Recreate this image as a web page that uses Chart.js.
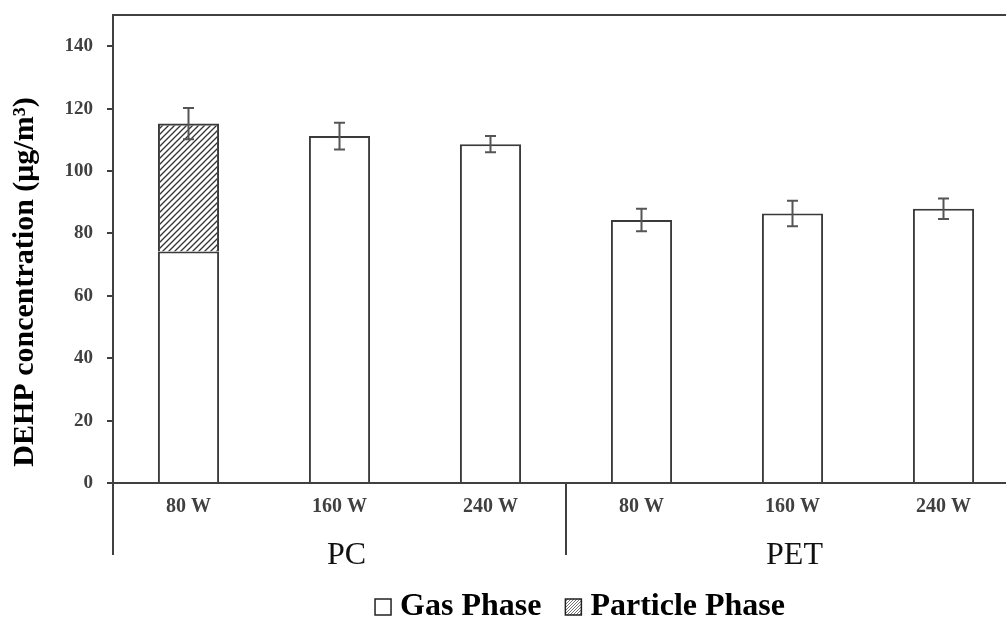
<!DOCTYPE html>
<html>
<head>
<meta charset="utf-8">
<script src="https://cdn.jsdelivr.net/npm/chart.js@4.4.1/dist/chart.umd.min.js"></script>
<style>
html, body { margin: 0; padding: 0; background: #fff; overflow: hidden; }
#wrap { width: 1020px; height: 617px; }
</style>
</head>
<body>
<div id="wrap"><canvas id="myChart" width="1020" height="617"></canvas></div>
<script>
// data
const categories = ['80 W', '160 W', '240 W', '80 W', '160 W', '240 W'];
const groups = ['PC', 'PET'];
const gasPhase = [74.2, 111.2, 108.6, 84.3, 86.4, 87.9];
const particlePhase = [41.0, null, null, null, null, null];
const errors = [5.0, 4.3, 2.6, 3.6, 4.1, 3.3];
const yTicks = [0, 20, 40, 60, 80, 100, 120, 140];
const yMax = 150;

const SERIF = '"Liberation Serif", "Times New Roman", serif';
const AXIS = '#404040';

const ctx = document.getElementById('myChart');
const ctx2d = ctx.getContext('2d');

// diagonal "/" hatch
function makeHatch(size, color, lw) {
    const c = document.createElement('canvas');
    c.width = size; c.height = size;
    const g = c.getContext('2d');
    g.strokeStyle = color;
    g.lineWidth = lw;
    g.beginPath();
    g.moveTo(0, size); g.lineTo(size, 0);
    g.moveTo(-size / 2, size / 2); g.lineTo(size / 2, -size / 2);
    g.moveTo(size / 2, size * 1.5); g.lineTo(size * 1.5, size / 2);
    g.stroke();
    return ctx2d.createPattern(c, 'repeat');
}

const hatch = makeHatch(6, '#333', 1.3);
const fineHatch = makeHatch(3, '#777', 1);

const extras = {
    id: 'extras',
    afterDatasetsDraw(chart) {
        const c = chart.ctx;
        const x = chart.scales.x, y = chart.scales.y;
        c.save();
        c.strokeStyle = '#555';
        c.lineWidth = 2;
        errors.forEach((e, i) => {
            const total = gasPhase[i] + (particlePhase[i] || 0);
            const px = x.getPixelForValue(i);
            const top = y.getPixelForValue(total + e);
            const bot = y.getPixelForValue(total - e);
            c.beginPath();
            c.moveTo(px, top); c.lineTo(px, bot);
            c.moveTo(px - 5.5, top); c.lineTo(px + 5.5, top);
            c.moveTo(px - 5.5, bot); c.lineTo(px + 5.5, bot);
            c.stroke();
        });
        c.restore();
    },
    afterDraw(chart) {
        const c = chart.ctx;
        const a = chart.chartArea;
        const catW = (a.right - a.left) / categories.length;
        c.save();
        c.strokeStyle = AXIS;
        c.lineWidth = 2;
        // top frame line
        c.beginPath();
        c.moveTo(a.left, a.top); c.lineTo(a.right, a.top);
        c.stroke();
        // group separators below the axis
        c.beginPath();
        [0, 3, 6].forEach(k => {
            const sx = a.left + k * catW;
            c.moveTo(sx, a.bottom); c.lineTo(sx, a.bottom + 72);
        });
        c.stroke();

        // group labels
        c.fillStyle = '#111';
        c.font = '32px ' + SERIF;
        c.textAlign = 'center';
        c.textBaseline = 'alphabetic';
        const nudge = [7, 2];
        groups.forEach((g, k) => {
            const gx = a.left + (k * 3 + 1.5) * catW + nudge[k];
            c.fillText(g, gx, a.bottom + 81);
        });

        // y axis title
        c.save();
        c.translate(33, 282);
        c.rotate(-Math.PI / 2);
        c.font = 'bold 30px ' + SERIF;
        c.fillStyle = '#000';
        c.fillText('DEHP concentration (μg/m³)', 0, 0);
        c.restore();

        // legend
        const items = [
            { label: chart.data.datasets[0].label, fill: '#fff' },
            { label: chart.data.datasets[1].label, fill: fineHatch }
        ];
        c.font = 'bold 32px ' + SERIF;
        c.textAlign = 'left';
        const box = 16, gap = 9, spacing = 24;
        let total = 0;
        items.forEach((it, i) => {
            it.w = c.measureText(it.label).width;
            total += box + gap + it.w + (i ? 0 : spacing);
        });
        let lx = 580 - total / 2;
        const base = 615;
        items.forEach(it => {
            c.fillStyle = it.fill;
            c.fillRect(lx, base - box, box, box);
            c.strokeStyle = '#222';
            c.lineWidth = 1.5;
            c.strokeRect(lx, base - box, box, box);
            c.fillStyle = '#000';
            c.fillText(it.label, lx + box + gap, base);
            lx += box + gap + it.w + spacing;
        });
        c.restore();
    }
};

new Chart(ctx, {
    type: 'bar',
    data: {
        labels: categories,
        datasets: [{
            label: 'Gas Phase',
            data: gasPhase,
            backgroundColor: '#fff',
            borderColor: '#3a3a3a',
            borderWidth: 2,
            barPercentage: 0.405,
            categoryPercentage: 1
        }, {
            label: 'Particle Phase',
            data: particlePhase,
            backgroundColor: hatch,
            borderColor: '#3a3a3a',
            borderWidth: 2,
            barPercentage: 0.405,
            categoryPercentage: 1
        }]
    },
    options: {
        responsive: false,
        devicePixelRatio: 1,
        animation: false,
        layout: { padding: { top: 15, right: 1, left: 0, bottom: 0 } },
        plugins: {
            legend: { display: false },
            tooltip: { enabled: false }
        },
        scales: {
            x: {
                stacked: true,
                afterFit: s => { s.height = 134; s.paddingLeft = 0; s.paddingRight = 0; },
                grid: { display: false, drawTicks: false },
                border: { display: true, color: AXIS, width: 2 },
                ticks: {
                    padding: 12,
                    color: AXIS,
                    maxRotation: 0,
                    font: { family: SERIF, weight: 'bold', size: 20 }
                }
            },
            y: {
                stacked: true,
                min: 0,
                max: yMax,
                afterBuildTicks: s => { s.ticks = yTicks.map(v => ({ value: v })); },
                afterFit: s => { s.width = 113; s.paddingTop = 0; s.paddingBottom = 0; },
                grid: { drawOnChartArea: false, drawTicks: true, tickLength: 6, color: AXIS, lineWidth: 2 },
                border: { display: true, color: AXIS, width: 2 },
                ticks: {
                    padding: 14,
                    color: AXIS,
                    font: { family: SERIF, weight: 'bold', size: 19 }
                }
            }
        }
    },
    plugins: [extras]
});
</script>
</body>
</html>
